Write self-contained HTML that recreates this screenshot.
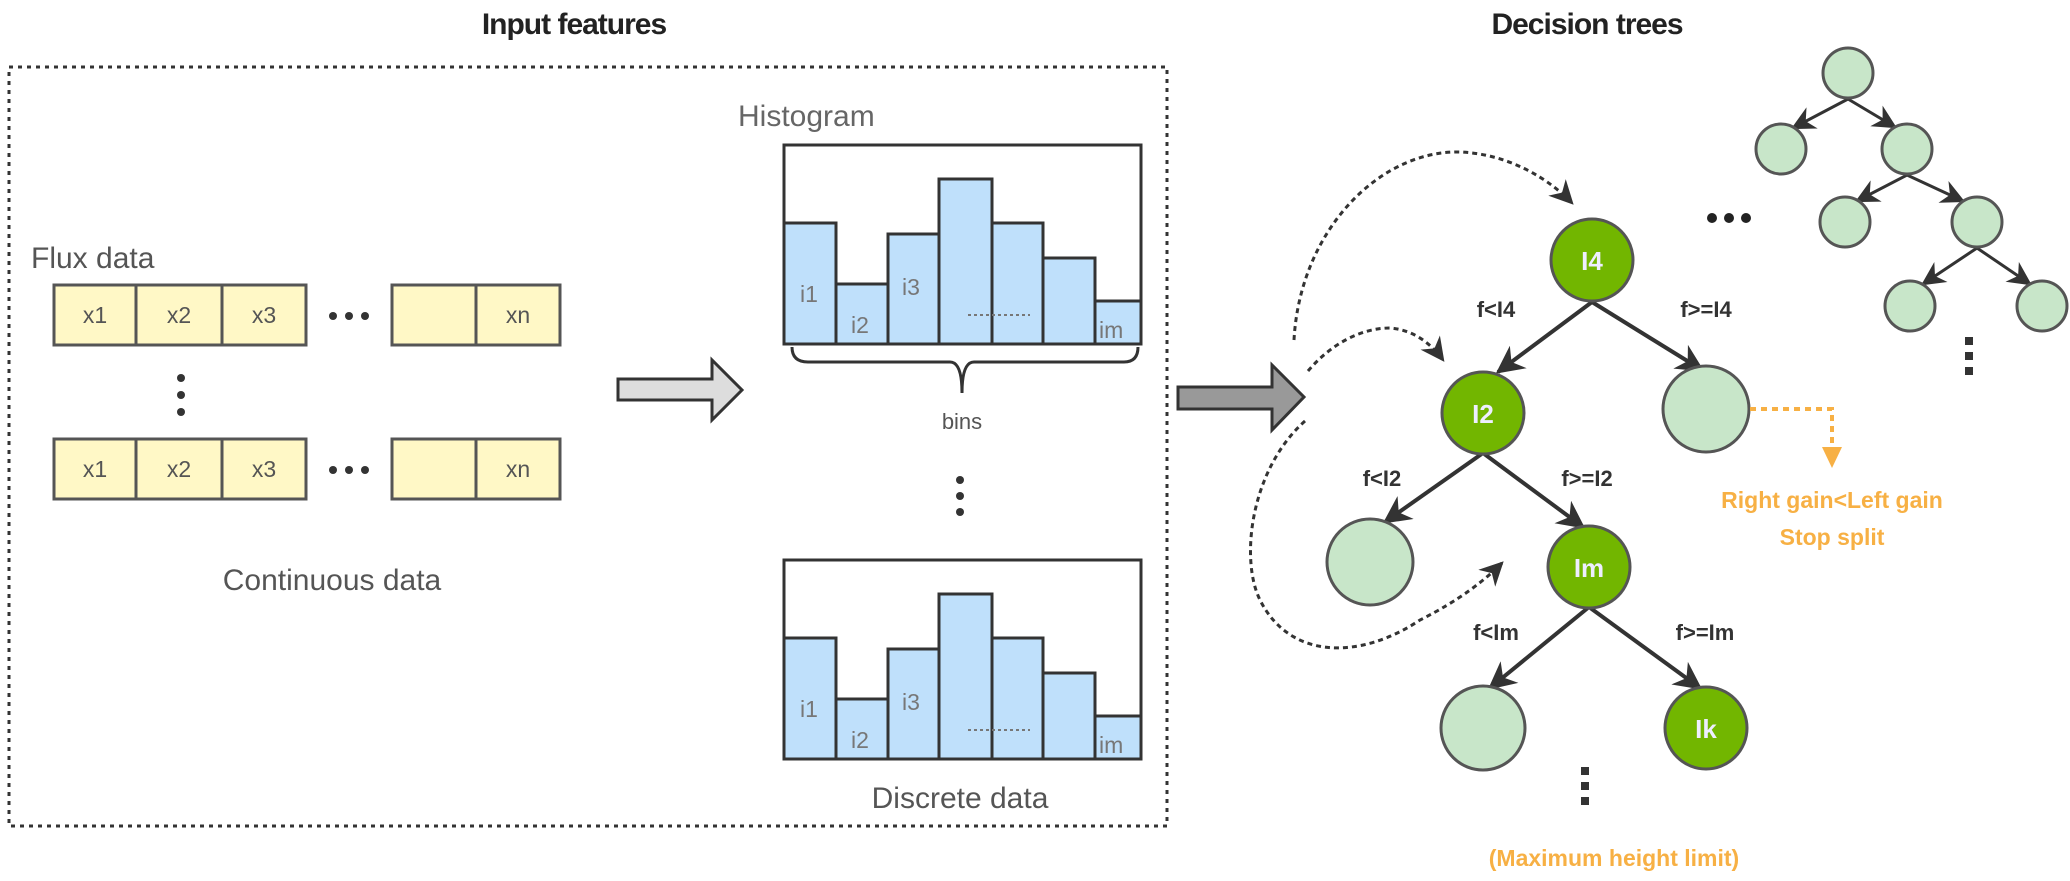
<!DOCTYPE html>
<html><head><meta charset="utf-8"><style>
html,body{margin:0;padding:0;background:#fff;}
svg{display:block;}
text{font-family:"Liberation Sans","DejaVu Sans",sans-serif;}
</style></head><body>
<svg width="2070" height="881" viewBox="0 0 2070 881" xmlns="http://www.w3.org/2000/svg">
<defs>
<marker id="ah" viewBox="0 0 10 10" refX="9" refY="5" markerWidth="7" markerHeight="7" orient="auto" markerUnits="strokeWidth">
<path d="M0,0 L10,5 L0,10 L3,5 z" fill="#333"/></marker>
<marker id="ah2" viewBox="0 0 10 10" refX="9" refY="5" markerWidth="8" markerHeight="8" orient="auto" markerUnits="strokeWidth">
<path d="M0,0 L10,5 L0,10 L3,5 z" fill="#333"/></marker>
<marker id="ad" viewBox="0 0 10 10" refX="9" refY="5" markerWidth="8" markerHeight="8" orient="auto" markerUnits="strokeWidth">
<path d="M0,0 L10,5 L0,10 L3,5 z" fill="#333"/></marker>
</defs>
<text x="574" y="34" font-size="30" font-weight="bold" text-anchor="middle" fill="#222" letter-spacing="-1">Input features</text>
<text x="1587" y="34" font-size="30" font-weight="bold" text-anchor="middle" fill="#222" letter-spacing="-1">Decision trees</text>
<rect x="9" y="67" width="1158" height="759" fill="none" stroke="#333" stroke-width="3" stroke-dasharray="4,5"/>
<text x="31" y="268" font-size="30" fill="#555">Flux data</text>
<g fill="#fff8c6" stroke="#555" stroke-width="3">
<rect x="54" y="285" width="82" height="60"/><rect x="136" y="285" width="86" height="60"/><rect x="222" y="285" width="84" height="60"/>
<rect x="392" y="285" width="84" height="60"/><rect x="476" y="285" width="84" height="60"/>
<rect x="54" y="439" width="82" height="60"/><rect x="136" y="439" width="86" height="60"/><rect x="222" y="439" width="84" height="60"/>
<rect x="392" y="439" width="84" height="60"/><rect x="476" y="439" width="84" height="60"/>
</g>
<g font-size="23" fill="#555" text-anchor="middle">
<text x="95" y="323">x1</text><text x="179" y="323">x2</text><text x="264" y="323">x3</text><text x="518" y="323">xn</text>
<text x="95" y="477">x1</text><text x="179" y="477">x2</text><text x="264" y="477">x3</text><text x="518" y="477">xn</text>
</g>
<g fill="#333">
<circle cx="333" cy="316" r="4"/><circle cx="349" cy="316" r="4"/><circle cx="365" cy="316" r="4"/>
<circle cx="333" cy="470" r="4"/><circle cx="349" cy="470" r="4"/><circle cx="365" cy="470" r="4"/>
<circle cx="181" cy="378" r="4"/><circle cx="181" cy="395" r="4"/><circle cx="181" cy="412" r="4"/>
</g>
<text x="332" y="590" font-size="30" fill="#555" text-anchor="middle">Continuous data</text>
<path d="M618,379 L712,379 L712,360 L742,390 L712,420 L712,400 L618,400 z" fill="#ddd" stroke="#333" stroke-width="3"/>
<text x="738" y="126" font-size="30" fill="#666">Histogram</text>
<g id="h1">
<rect x="784" y="145" width="357" height="199" fill="#fff" stroke="#333" stroke-width="3"/>
<g fill="#bfe0fb" stroke="#333" stroke-width="3">
<rect x="784" y="223" width="52" height="121"/><rect x="836" y="284" width="52" height="60"/><rect x="888" y="234" width="51" height="110"/>
<rect x="939" y="179" width="53" height="165"/><rect x="992" y="223" width="51" height="121"/><rect x="1043" y="258" width="52" height="86"/>
<rect x="1095" y="301" width="46" height="43"/>
</g>
<g font-size="23" fill="#777">
<text x="800" y="302">i1</text><text x="851" y="333">i2</text><text x="902" y="295">i3</text><text x="1099" y="338">im</text>
</g>
<line x1="968" y1="315" x2="1030" y2="315" stroke="#777" stroke-width="2" stroke-dasharray="3,3"/>
</g>
<path d="M792,347 Q792,362 808,362 L950,362 Q962,362 962,393 Q962,362 974,362 L1124,362 Q1138,362 1138,347" fill="none" stroke="#333" stroke-width="3"/>
<text x="962" y="429" font-size="22" fill="#555" text-anchor="middle">bins</text>
<g fill="#333"><circle cx="960" cy="480" r="4"/><circle cx="960" cy="496" r="4"/><circle cx="960" cy="512" r="4"/></g>
<use href="#h1" transform="translate(0,415)"/>
<text x="960" y="808" font-size="30" fill="#555" text-anchor="middle">Discrete data</text>
<path d="M1178,387 L1272,387 L1272,365 L1304,397 L1272,430 L1272,409 L1178,409 z" fill="#999" stroke="#333" stroke-width="3"/>
<g fill="none" stroke="#333" stroke-width="3" stroke-dasharray="5,4">
<path d="M1294,340 C1300,230 1380,150 1460,152 C1510,154 1550,180 1572,203" marker-end="url(#ad)"/>
<path d="M1308,371 C1330,345 1360,328 1390,328 C1415,330 1432,345 1443,360" marker-end="url(#ad)"/>
<path d="M1305,421 C1250,470 1240,560 1260,600 C1290,660 1360,660 1420,620 C1460,600 1485,580 1502,563" marker-end="url(#ad)"/>
</g>
<g stroke="#333" stroke-width="4" marker-end="url(#ah)">
<line x1="1592" y1="302" x2="1498" y2="372"/>
<line x1="1592" y1="302" x2="1702" y2="370"/>
<line x1="1483" y1="453" x2="1385" y2="522"/>
<line x1="1483" y1="453" x2="1583" y2="527"/>
<line x1="1589" y1="607" x2="1490" y2="688"/>
<line x1="1589" y1="607" x2="1700" y2="688"/>
</g>
<g stroke="#555" stroke-width="3">
<circle cx="1592" cy="260" r="41" fill="#72b600"/>
<circle cx="1483" cy="413" r="41" fill="#72b600"/>
<circle cx="1706" cy="409" r="43" fill="#c8e6c9"/>
<circle cx="1370" cy="562" r="43" fill="#c8e6c9"/>
<circle cx="1589" cy="567" r="41" fill="#72b600"/>
<circle cx="1483" cy="728" r="42" fill="#c8e6c9"/>
<circle cx="1706" cy="728" r="41" fill="#72b600"/>
</g>
<g font-size="26" fill="#eef" text-anchor="middle" font-weight="bold">
<text x="1592" y="270">I4</text><text x="1483" y="423">I2</text><text x="1589" y="577">Im</text><text x="1706" y="738">Ik</text>
</g>
<g font-size="22" font-weight="bold" fill="#333" text-anchor="middle">
<text x="1496" y="317">f&lt;I4</text><text x="1706" y="317">f&gt;=I4</text>
<text x="1382" y="486">f&lt;I2</text><text x="1587" y="486">f&gt;=I2</text>
<text x="1496" y="640">f&lt;Im</text><text x="1705" y="640">f&gt;=Im</text>
</g>
<g fill="#333"><rect x="1581" y="767" width="8" height="8"/><rect x="1581" y="782" width="8" height="8"/><rect x="1581" y="797" width="8" height="8"/></g>
<text x="1614" y="866" font-size="23" font-weight="bold" fill="#f7b044" text-anchor="middle">(Maximum height limit)</text>
<path d="M1750,409 L1832,409 L1832,452" fill="none" stroke="#f7b044" stroke-width="4" stroke-dasharray="6,5"/>
<path d="M1822,447 L1842,447 L1832,468 z" fill="#f7b044"/>
<text x="1832" y="508" font-size="23" font-weight="bold" fill="#f7b044" text-anchor="middle">Right gain&lt;Left gain</text>
<text x="1832" y="545" font-size="23" font-weight="bold" fill="#f7b044" text-anchor="middle">Stop split</text>
<g fill="#222"><circle cx="1712" cy="218" r="5"/><circle cx="1729" cy="218" r="5"/><circle cx="1746" cy="218" r="5"/></g>
<g stroke="#333" stroke-width="3" marker-end="url(#ah2)">
<line x1="1848" y1="99" x2="1793" y2="128"/><line x1="1848" y1="99" x2="1895" y2="127"/>
<line x1="1907" y1="175" x2="1857" y2="201"/><line x1="1907" y1="175" x2="1963" y2="201"/>
<line x1="1977" y1="248" x2="1923" y2="284"/><line x1="1977" y1="248" x2="2030" y2="284"/>
</g>
<g fill="#c8e6c9" stroke="#555" stroke-width="3">
<circle cx="1848" cy="73" r="25"/><circle cx="1781" cy="149" r="25"/><circle cx="1907" cy="149" r="25"/>
<circle cx="1845" cy="222" r="25"/><circle cx="1977" cy="222" r="25"/>
<circle cx="1910" cy="306" r="25"/><circle cx="2042" cy="306" r="25"/>
</g>
<g fill="#333"><rect x="1965" y="337" width="8" height="8"/><rect x="1965" y="352" width="8" height="8"/><rect x="1965" y="367" width="8" height="8"/></g>
</svg>
</body></html>
